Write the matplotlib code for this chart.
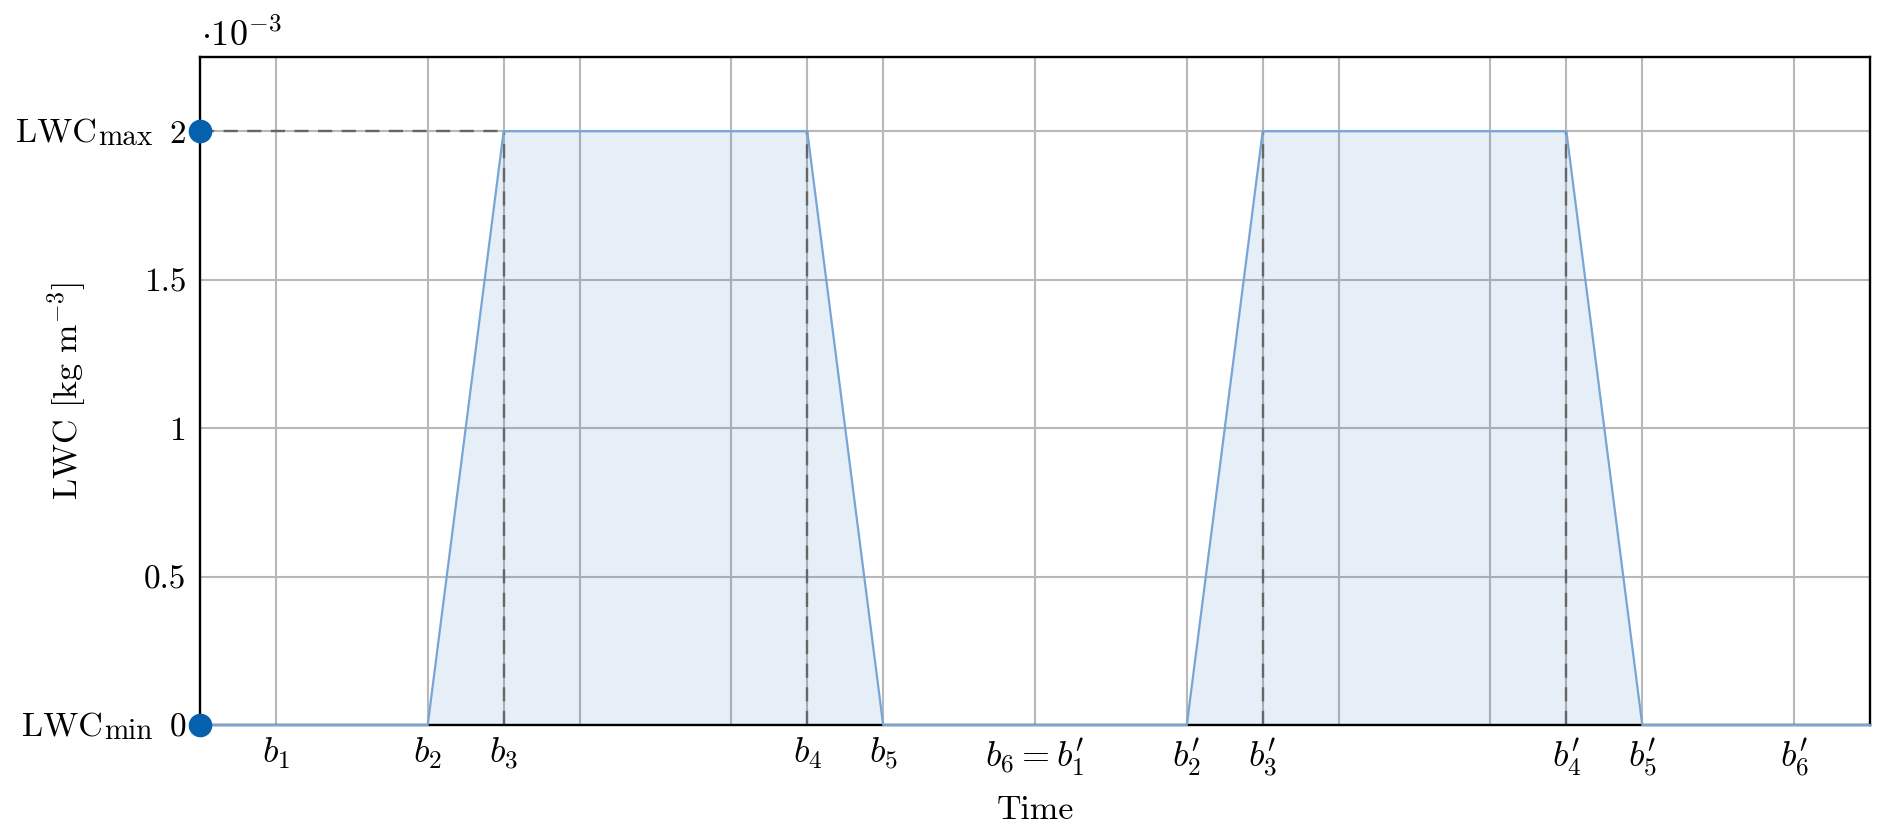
import matplotlib
matplotlib.use("Agg")
import matplotlib.pyplot as plt

plt.rcParams['font.family'] = 'serif'
plt.rcParams['font.serif'] = ['cmr10']
plt.rcParams['mathtext.fontset'] = 'cm'
plt.rcParams['axes.formatter.use_mathtext'] = True

# Data
time = [0, 3, 4, 8, 9, 13, 14, 18, 19, 22]
lwc = [0, 0, 2e-3, 2e-3, 0, 0, 2e-3, 2e-3, 0, 0]
xtick_pos = [1, 3, 4, 5, 7, 8, 9, 11, 13, 14, 15, 17, 18, 19, 21]
xtick_labels = [r'$b_1$', r'$b_2$', r'$b_3$', '', '', r'$b_4$', r'$b_5$',
                r'$b_6 = b_1^{\prime}$', r'$b_2^{\prime}$', r'$b_3^{\prime}$', '', '',
                r'$b_4^{\prime}$', r'$b_5^{\prime}$', r'$b_6^{\prime}$']
ytick_pos = [0, 0.5e-3, 1e-3, 1.5e-3, 2e-3]
ytick_labels = ['0', '0.5', '1', '1.5', '2']
plateau_edges = [4, 8, 14, 18]
lwc_min, lwc_max = 0, 2e-3

fig = plt.figure(figsize=(18.92, 8.38), dpi=100)
ax = fig.add_axes([200 / 1892, 1 - 725 / 838, 1670 / 1892, 668 / 838])

fs_tick = 24
fs_lab = 24.5
ax.set_xlim(0, 22)
ax.set_ylim(0, 2.25e-3)
ax.set_xticks(xtick_pos)
ax.set_xticklabels(xtick_labels, fontsize=26)
ax.set_yticks(ytick_pos)
ax.set_yticklabels(ytick_labels, fontsize=fs_tick)
ax.tick_params(axis='y', length=0, pad=10)
ax.tick_params(axis='x', length=0, pad=8)
ax.grid(True, color='#b8b8b8', linewidth=1.5)
ax.set_axisbelow(True)

ax.fill_between(time, lwc, 0, color='#0a64b4', alpha=0.1, linewidth=0, zorder=1)
ax.plot(time, lwc, color='#77a5d5', linewidth=1.6, zorder=3, clip_on=False)

dash = (0, (6, 4))
for xe in plateau_edges:
    ax.plot([xe, xe], [lwc_min, lwc_max], color='#666666', linestyle=dash,
            linewidth=1.7, zorder=2)
ax.plot([0, plateau_edges[0]], [lwc_max, lwc_max], color='#666666',
        linestyle=dash, linewidth=1.7, zorder=2)

ax.plot([0, 0], [lwc_min, lwc_max], 'o', color='#0560ad', markersize=16,
        clip_on=False, zorder=5)

for sp in ax.spines.values():
    sp.set_linewidth(1.7)
    sp.set_color('black')

# LWC_max / LWC_min labels (main text + larger-than-mathtext subscript)
renderer = fig.canvas.get_renderer()
for yv, sub in [(lwc_max, 'max'), (lwc_min, 'min')]:
    t_sub = ax.annotate(sub, xy=(0, yv), xycoords=('axes fraction', 'data'),
                        xytext=(-48, -14), textcoords='offset pixels',
                        ha='right', va='baseline', fontsize=21)
    w = t_sub.get_window_extent(renderer).width
    ax.annotate('LWC', xy=(0, yv), xycoords=('axes fraction', 'data'),
                xytext=(-48 - w - 1, -11), textcoords='offset pixels',
                ha='right', va='baseline', fontsize=fs_lab)

ax.annotate(r'$\cdot 10^{-3}$', xy=(0, 1), xycoords='axes fraction',
            xytext=(1, 11), textcoords='offset pixels', ha='left', va='baseline',
            fontsize=26)

ax.set_xlabel('Time', fontsize=fs_lab, labelpad=12)
ax.set_ylabel(r'LWC [kg m$^{-3}$]', fontsize=fs_lab, labelpad=40)

fig.savefig('out.png', dpi=100)
